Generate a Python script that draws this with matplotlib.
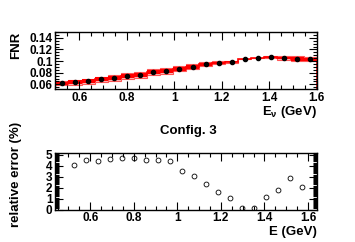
import numpy as np
import matplotlib
matplotlib.use("Agg")
import matplotlib.pyplot as plt
from matplotlib.ticker import MultipleLocator
from matplotlib.patches import Rectangle

plt.rcParams['font.family'] = ['Liberation Sans', 'DejaVu Sans']
plt.rcParams['font.weight'] = 'bold'
plt.rcParams['mathtext.fontset'] = 'custom'
plt.rcParams['mathtext.rm'] = 'Liberation Sans:bold'
plt.rcParams['mathtext.it'] = 'Liberation Sans:bold'
plt.rcParams['mathtext.bf'] = 'Liberation Sans:bold'

# bin centres (GeV), width 0.055
energy = [0.5275, 0.5825, 0.6375, 0.6925, 0.7475, 0.8025, 0.8575, 0.9125,
          0.9675, 1.0225, 1.0775, 1.1325, 1.1875, 1.2425, 1.2975, 1.3525,
          1.4075, 1.4625, 1.5175, 1.5725]
bin_width = 0.055

# FNR values (black dots)
fnr = [0.0623, 0.0640, 0.0657, 0.0687, 0.0704, 0.0739, 0.0762, 0.0809,
       0.0831, 0.0868, 0.0900, 0.0943, 0.0970, 0.0988, 0.1030, 0.1052,
       0.1064, 0.1052, 0.1040, 0.1030]

# relative error (%)
rel_err = [4.1, 4.55, 4.42, 4.58, 4.7, 4.76, 4.55, 4.55, 4.4, 3.55,
           3.1, 2.36, 1.64, 1.09, 0.18, 0.18, 1.15, 1.76, 2.9, 2.1]

E = np.array(energy)
F = np.array(fnr)
R = np.array(rel_err) / 100.0

fig = plt.figure(figsize=(3.55, 2.42), dpi=100)

def root_style(ax, xmaj, xmin, ymaj, ymin):
    ax.xaxis.set_major_locator(MultipleLocator(xmaj))
    ax.xaxis.set_minor_locator(MultipleLocator(xmin))
    ax.yaxis.set_major_locator(MultipleLocator(ymaj))
    ax.yaxis.set_minor_locator(MultipleLocator(ymin))
    ax.tick_params(which='both', direction='in', top=True, right=True,
                   labelsize=8.5, width=0.8, pad=2)
    ax.tick_params(which='major', length=6)
    ax.tick_params(which='minor', length=3)
    for s in ax.spines.values():
        s.set_linewidth(1.0)

def bold_labels(ax, xlim, ylim):
    ax.set_xlim(*xlim)
    ax.set_ylim(*ylim)
    yt = [t for t in ax.get_yticks() if ylim[0] <= t <= ylim[1] + 1e-9]
    xt = [t for t in ax.get_xticks() if xlim[0] <= t <= xlim[1] + 1e-9]
    ax.set_yticks(yt)
    ax.set_yticklabels([('%g' % round(t, 3)) for t in yt], fontweight='bold')
    ax.set_xticks(xt)
    ax.set_xticklabels([('%g' % round(t, 3)) for t in xt], fontweight='bold')
    ax.set_xlim(*xlim)
    ax.set_ylim(*ylim)

# ---- top panel: FNR
ax1 = fig.add_axes([0.156, 0.632, 0.736, 0.236])
for e, f, r in zip(E, F, R):
    lo = f * (1 - 1.5 * r)
    hi = f * (1 + 1.5 * r)
    ax1.add_patch(Rectangle((e - bin_width / 2, lo), bin_width, hi - lo,
                            facecolor='#ffb3b3', edgecolor='#ff5555', lw=0.8))
edges = np.append(E - bin_width / 2, E[-1] + bin_width / 2)
ax1.stairs(F * (1 + R), edges, baseline=F * (1 - R),
           fill=True, color='red', lw=0)
ax1.stairs(F, edges, color='red', lw=1.2)
ax1.plot(E, F, 'o', color='black', ms=3.0)
root_style(ax1, 0.2, 0.05, 0.02, 0.005)
bold_labels(ax1, (0.5, 1.6), (0.052, 0.15))
fig.text(0.892, 0.536, r'E$_{\nu}$ (GeV)', ha='right', va='center',
         fontsize=9.5, fontweight='bold')
fig.text(0.045, 0.868, 'FNR', rotation=90, ha='center', va='top',
         fontsize=9.5, fontweight='bold')

# ---- bottom panel: relative error
fig.text(0.53, 0.458, 'Config. 3', ha='center', va='center',
         fontsize=9.5, fontweight='bold')
ax2 = fig.add_axes([0.156, 0.134, 0.736, 0.235])
ax2.plot(E, rel_err, 'o', mfc='none', mec='black', ms=3.5, mew=0.6)
root_style(ax2, 0.2, 0.05, 1, 0.1)
bold_labels(ax2, (0.44, 1.64), (0, 5.2))
fig.text(0.892, 0.043, 'E (GeV)', ha='right', va='center',
         fontsize=9.5, fontweight='bold')
fig.text(0.045, 0.28, 'relative error (%)', rotation=90, ha='center',
         va='center', fontsize=9.5, fontweight='bold')

fig.savefig('out.png', dpi=100)
